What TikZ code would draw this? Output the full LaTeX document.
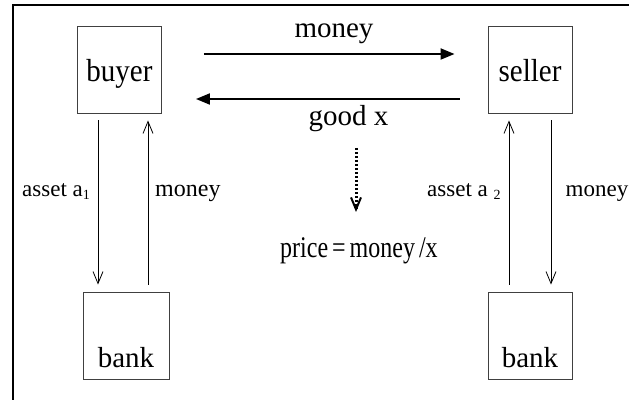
\documentclass[tikz,border=0pt]{standalone}
\usepackage{fontspec}
\setmainfont{Liberation Serif}
\usepackage{graphicx}
\usepackage{tikz}
\usetikzlibrary{calc,arrows.meta}
\newcommand{\bigtxt}{\fontsize{29}{31}\selectfont}
\newcommand{\smalltxt}{\fontsize{23}{25}\selectfont}
\newcommand{\subtxt}[1]{\raisebox{-0.25ex}{\fontsize{14}{14}\selectfont #1}}
\newcommand{\tall}[2][1.25]{\scalebox{1}[#1]{#2}}
\tikzset{
  box/.style={draw=black!75,line width=0.9pt,minimum width=84,minimum height=87,inner sep=0pt,font=\bigtxt,text height=27pt,text depth=3pt},
  bankbox/.style={box,text height=63pt,text depth=0pt},
  boxtxt/.style={anchor=base,font=\bigtxt,inner sep=0pt},
  flow/.style={line width=2pt,-{Triangle[length=14pt,width=11pt]}},
  thin flow/.style={line width=0.8pt,-{Straight Barb[length=12pt,width=10pt,line width=0.8pt]},shorten <=7pt,shorten >=7pt},
  lbl/.style={font=\smalltxt,inner sep=0pt,anchor=base west}
}

\begin{document}
\begin{tikzpicture}[x=1pt,y=1pt]
    \useasboundingbox (0,0) rectangle (629,399);
    % frame
    \draw[line width=2pt] (13,-10)--(13,394)--(640,394);

    \node[box] (buyer) at (119.5,329.5) {\tall[1.1]{buyer}};
    \node[box] (seller) at (530,329.5) {\tall[1.1]{seller}};
    \node[bankbox,minimum width=86] (bank1) at (126,63.5) {bank};
    \node[bankbox] (bank2) at (530,63.5) {bank};

    % trade
    \draw[flow,shorten <=42pt,shorten >=33pt]([yshift=15.5pt]buyer.east)--([yshift=15.5pt]seller.west);
    \draw[flow,shorten <=28pt,shorten >=34pt]([yshift=-29.5pt]seller.west)--([yshift=-29.5pt]buyer.east);
    \node[boxtxt] (moneytop) at (334,361) {money};
    \node[boxtxt] (goodx) at (348.5,273) {good x};

    % price
    \coordinate (ptop) at (356,251);
    \coordinate (pbot) at (356,187);
    \draw[line width=3pt,dash pattern=on 2pt off 2pt,-{Straight Barb[length=12pt,width=10pt,line width=2pt]}](ptop)--(pbot);
    \node[lbl,font=\fontsize{24}{26}\selectfont] (price) at (280,141) {\tall{price\,=\,money\,/x}};

    % banks
    \draw[thin flow]([xshift=-21.5pt]buyer.south)--([xshift=-21.5pt]buyer.south |- bank1.north);
    \draw[thin flow]([xshift=22pt]bank1.north)--([xshift=22pt]bank1.north |- buyer.south);
    \draw[thin flow]([xshift=-21pt]bank2.north)--([xshift=-21pt]bank2.north |- seller.south);
    \draw[thin flow]([xshift=21pt]seller.south)--([xshift=21pt]seller.south |- bank2.north);
    \node[lbl] (a1) at (22,202) {asset a\subtxt{1}};
    \node[lbl,font=\fontsize{24}{26}\selectfont] (m1) at (155,202) {money};
    \node[lbl] (a2) at (427,202) {asset a \subtxt{2}};
    \node[lbl] (m2) at (565.5,202) {money};
  \end{tikzpicture}
\end{document}
